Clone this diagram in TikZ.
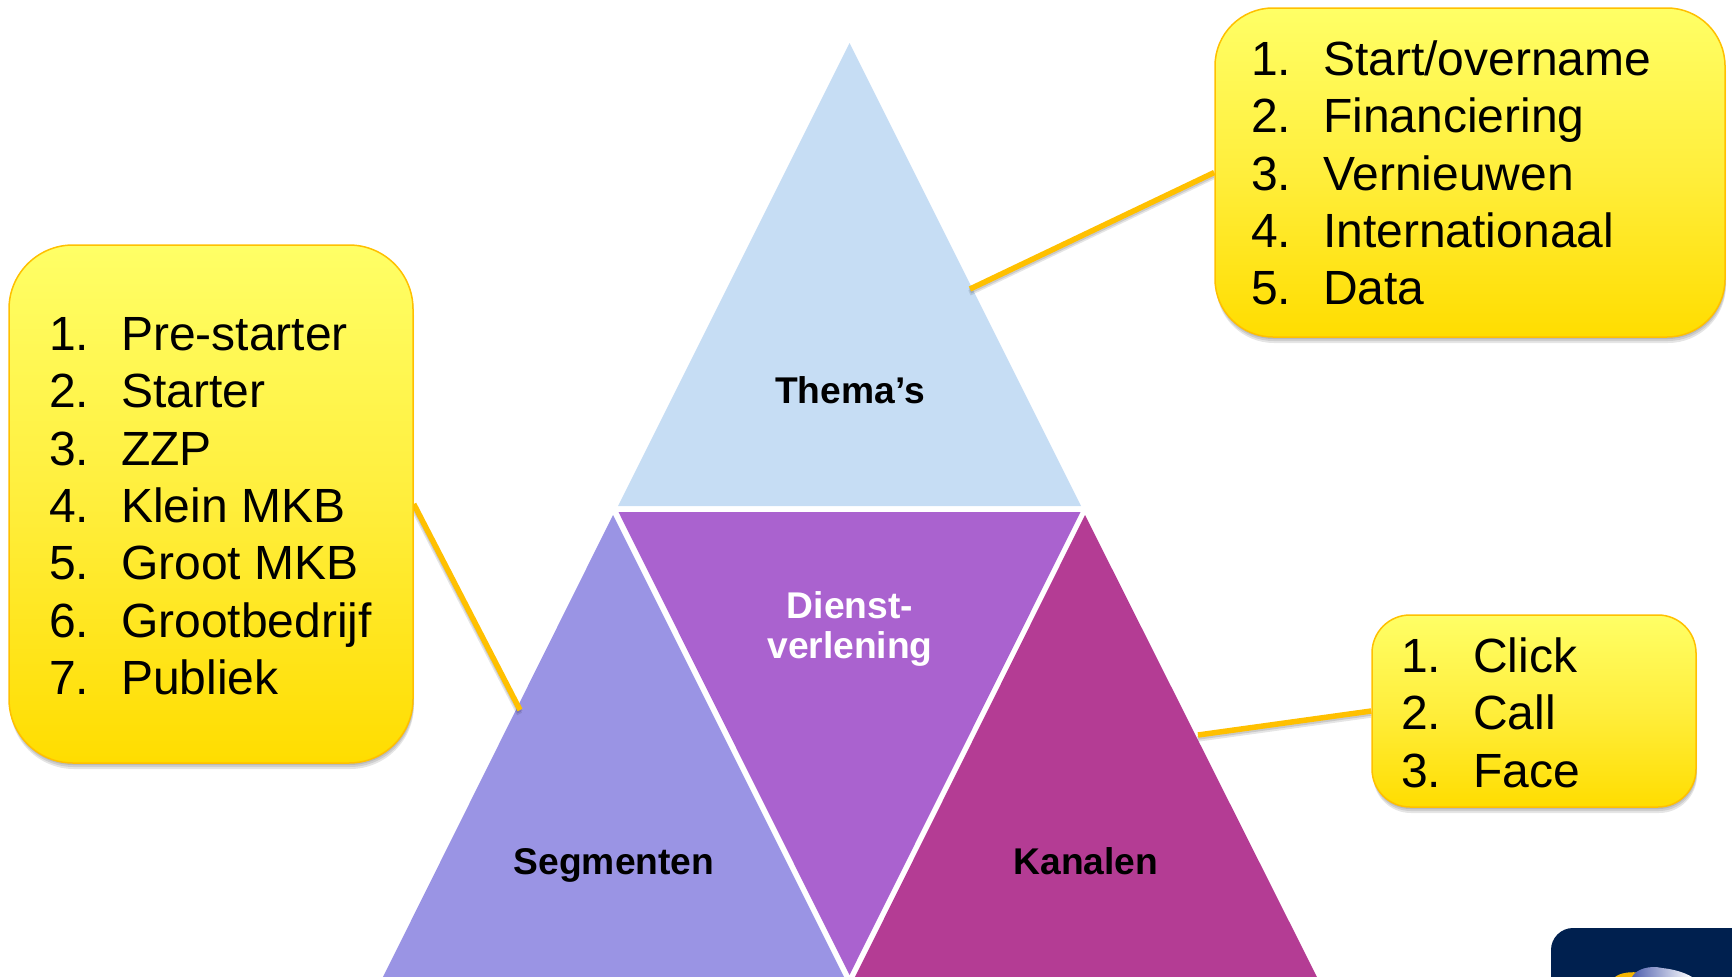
\documentclass[tikz,border=0pt]{standalone}
\usepackage{fontspec}
\setmainfont{Liberation Sans}
\usetikzlibrary{shadows,calc}
\definecolor{yelTop}{HTML}{FFFF66}
\definecolor{yelBot}{HTML}{FFDD00}
\definecolor{yelMid}{HTML}{FFEE3C}
\definecolor{yelEdge}{HTML}{FFC000}
\definecolor{triTop}{HTML}{C6DDF4}
\definecolor{triMid}{HTML}{AA62CF}
\definecolor{triLeft}{HTML}{9A94E4}
\definecolor{triRight}{HTML}{B43C94}
\definecolor{navy}{HTML}{00204F}
\definecolor{cloudBlue}{HTML}{4F5FAE}
\definecolor{sunYel}{HTML}{F5B400}
\newcommand{\itm}[1]{\makebox[72pt][l]{#1}}
\pgfdeclarelayer{tris}
\pgfdeclarelayer{conns}
\pgfsetlayers{tris,conns,main}
\tikzset{
  softshadow/.style={
    drop shadow={shadow xshift=0.5pt,shadow yshift=-2pt,fill=black,opacity=.10},
    drop shadow={shadow xshift=0.8pt,shadow yshift=-4pt,fill=black,opacity=.10},
    drop shadow={shadow xshift=1pt,shadow yshift=-6pt,fill=black,opacity=.10}},
  yelbox/.style={draw=yelEdge,line width=1.5pt,top color=yelTop,bottom color=yelBot,middle color=yelMid,
    inner sep=0pt,softshadow},
  listtext/.style={inner sep=0pt,align=left,anchor=north west,font=\fontsize{48}{57.4}\selectfont,text=black},
  conn/.style={draw=yelEdge,line width=5.5pt,
    preaction={draw=black,opacity=.12,line width=5.5pt,transform canvas={shift={(0pt,-2pt)}}},
    preaction={draw=black,opacity=.10,line width=5.5pt,transform canvas={shift={(-0.5pt,-4pt)}}}},
  trilabel/.style={font=\fontsize{37.2}{40}\selectfont\bfseries,align=center,inner sep=0pt},
}
\begin{document}
\begin{tikzpicture}[x=1pt,y=-1pt]
\useasboundingbox (0,0) rectangle (1732,977);
\clip (0,0) rectangle (1732,977);
\begin{pgfonlayer}{tris}
\fill[triTop] (849.5,43) -- (1081,506) -- (618,506) -- cycle;
\fill[triMid] (618.5,512) -- (1080.5,512) -- (849.5,975) -- cycle;
\fill[triLeft] (613,515) -- (848,985) -- (379,985) -- cycle;
\fill[triRight] (1085,515) -- (1321,985) -- (851,985) -- cycle;
\end{pgfonlayer}
% logo
\begin{scope}
\clip[rounded corners=22pt] (1551,928) rectangle (1780,1040);
\fill[navy] (1551,928) rectangle (1732,977);
\fill[sunYel] (1615,977) .. controls (1620,973) and (1630,971) .. (1642,973) -- (1642,977) -- cycle;
\shade[left color=cloudBlue,right color=white] (1632,977) .. controls (1636,969) and (1650,965) .. (1662,968) .. controls (1672,969) and (1684,972) .. (1692,977) -- cycle;
\end{scope}
\node[trilabel,anchor=base] (thema) at (850,403) {Thema’s};
\node[trilabel,text=white] (dienst) at (850,629) {Dienst-\\verlening};
\node[trilabel,anchor=base] (segm) at (614,874) {Segmenten};
\node[trilabel,anchor=base] (kana) at (1086,874) {Kanalen};
\coordinate (cT) at (970,289);
\coordinate (cL) at (520,710);
\coordinate (cR) at (1198,735);
\node[yelbox,rounded corners=58pt,minimum width=510pt,minimum height=329pt] (boxT) at (1470,172.5) {};
\node[yelbox,rounded corners=64pt,minimum width=404pt,minimum height=518pt] (boxL) at (211,504) {};
\node[yelbox,rounded corners=38pt,minimum width=324pt,minimum height=192pt] (boxR) at (1534,711) {};
\begin{pgfonlayer}{conns}
\draw[conn] (boxT.west) -- (cT);
\draw[conn] (boxL.east) -- (cL);
\draw[conn] (boxR.west) -- (cR);
\end{pgfonlayer}
\node[listtext] (listT) at (1251,40.3) {\itm{1.}Start/overname\\\itm{2.}Financiering\\\itm{3.}Vernieuwen\\\itm{4.}Internationaal\\\itm{5.}Data};
\node[listtext] (listL) at (49,317) {\itm{1.}Pre-starter\\\itm{2.}Starter\\\itm{3.}ZZP\\\itm{4.}Klein MKB\\\itm{5.}Groot MKB\\\itm{6.}Grootbedrijf\\\itm{7.}Publiek};
\node[listtext] (listR) at (1401,637.3) {\itm{1.}Click\\\itm{2.}Call\\\itm{3.}Face};
\end{tikzpicture}
\end{document}
